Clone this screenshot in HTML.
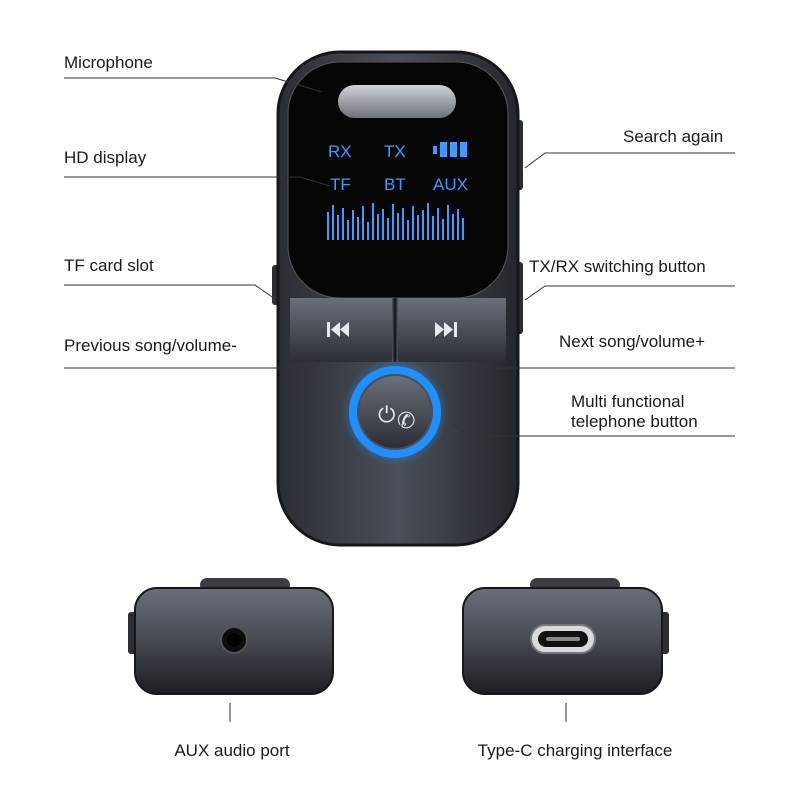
<!DOCTYPE html>
<html><head><meta charset="utf-8"><style>
html,body{margin:0;padding:0;background:#fff;}
svg{display:block;}
text{font-family:"Liberation Sans","DejaVu Sans",sans-serif;font-size:17px;fill:#1a1a1a;}
text.scr{fill:#3d9cff;}
</style></head><body>
<svg width="800" height="800" viewBox="0 0 800 800" xmlns="http://www.w3.org/2000/svg">
<defs>
<linearGradient id="body" x1="0" y1="0" x2="1" y2="0">
<stop offset="0" stop-color="#2a2d33"/><stop offset="0.5" stop-color="#4a4f57"/><stop offset="1" stop-color="#23262b"/>
</linearGradient>
<linearGradient id="btn" x1="0" y1="0" x2="0" y2="1">
<stop offset="0" stop-color="#6a6f78"/><stop offset="1" stop-color="#2b2e34"/>
</linearGradient>
<linearGradient id="low" x1="0" y1="0" x2="0" y2="1">
<stop offset="0" stop-color="#6a6f78"/><stop offset="0.5" stop-color="#454950"/><stop offset="1" stop-color="#1c1e22"/>
</linearGradient>
<radialGradient id="glow"><stop offset="0.7" stop-color="#1e90ff"/><stop offset="1" stop-color="#1e90ff" stop-opacity="0"/></radialGradient>
<linearGradient id="mic" x1="0" y1="0" x2="0" y2="1"><stop offset="0" stop-color="#cfd2d6"/><stop offset="1" stop-color="#6d7178"/></linearGradient>
</defs>

<rect x="272" y="265" width="10" height="40" rx="3" fill="#2b2e33"/>
<rect x="513" y="120" width="10" height="70" rx="3" fill="#2b2e33"/>
<rect x="513" y="262" width="10" height="72" rx="3" fill="#2b2e33"/>

<rect x="278" y="52" width="240" height="493" rx="62" fill="url(#body)" stroke="#15171a" stroke-width="3"/>
<rect x="288" y="62" width="220" height="236" rx="52" fill="#050506"/>
<rect x="288" y="62" width="220" height="236" rx="52" fill="none" stroke="#555" stroke-width="1"/>
<rect x="338" y="85" width="118" height="33" rx="16.5" fill="url(#mic)"/>
<text class="scr" x="328" y="157" style="fill:#3d9cff">RX</text>
<text class="scr" x="384" y="157" style="fill:#3d9cff">TX</text>
<text class="scr" x="330" y="190" style="fill:#3d9cff">TF</text>
<text class="scr" x="384" y="190" style="fill:#3d9cff">BT</text>
<text class="scr" x="433" y="190" style="fill:#3d9cff">AUX</text>
<rect x="433" y="146" width="4" height="8" fill="#3d9cff"/>
<rect x="440" y="142" width="7" height="15" fill="#3d9cff"/>
<rect x="450" y="142" width="7" height="15" fill="#3d9cff"/>
<rect x="460" y="142" width="7" height="15" fill="#3d9cff"/>
<g stroke="#3d9cff" stroke-width="2">
<line x1="328" y1="240" x2="328" y2="212"/><line x1="333" y1="240" x2="333" y2="205"/><line x1="338" y1="240" x2="338" y2="215"/>
<line x1="343" y1="240" x2="343" y2="208"/><line x1="348" y1="240" x2="348" y2="220"/><line x1="353" y1="240" x2="353" y2="210"/>
<line x1="358" y1="240" x2="358" y2="217"/><line x1="363" y1="240" x2="363" y2="206"/><line x1="368" y1="240" x2="368" y2="222"/>
<line x1="373" y1="240" x2="373" y2="203"/><line x1="378" y1="240" x2="378" y2="214"/><line x1="383" y1="240" x2="383" y2="209"/>
<line x1="388" y1="240" x2="388" y2="218"/><line x1="393" y1="240" x2="393" y2="204"/><line x1="398" y1="240" x2="398" y2="213"/>
<line x1="403" y1="240" x2="403" y2="208"/><line x1="408" y1="240" x2="408" y2="220"/><line x1="413" y1="240" x2="413" y2="206"/>
<line x1="418" y1="240" x2="418" y2="215"/><line x1="423" y1="240" x2="423" y2="210"/><line x1="428" y1="240" x2="428" y2="203"/>
<line x1="433" y1="240" x2="433" y2="216"/><line x1="438" y1="240" x2="438" y2="208"/><line x1="443" y1="240" x2="443" y2="219"/>
<line x1="448" y1="240" x2="448" y2="205"/><line x1="453" y1="240" x2="453" y2="214"/><line x1="458" y1="240" x2="458" y2="209"/>
<line x1="463" y1="240" x2="463" y2="218"/>
</g>
<path d="M290 298 H392 V362 H290 Z" fill="url(#btn)"/>
<path d="M398 298 H506 V362 H398 Z" fill="url(#btn)"/>
<line x1="395" y1="298" x2="395" y2="362" stroke="#1a1c20" stroke-width="3"/>
<g fill="#e6e8ea">
<rect x="327" y="322" width="3" height="15"/>
<polygon points="340,322 340,337 331,329.5"/><polygon points="349,322 349,337 340,329.5"/>
<polygon points="435,322 435,337 444,329.5"/><polygon points="444,322 444,337 453,329.5"/>
<rect x="454" y="322" width="3" height="15"/>
</g>
<circle cx="395" cy="412" r="54" fill="url(#glow)" opacity="0.5"/>
<circle cx="395" cy="412" r="46" fill="#1e90ff"/>
<circle cx="395" cy="412" r="38" fill="#4a4e56"/>
<circle cx="395" cy="412" r="36" fill="url(#btn)"/>
<text x="378" y="422" style="font-size:22px;fill:#e6e8ea">⏻</text>
<text x="397" y="428" style="font-size:22px;fill:#e6e8ea">✆</text>

<text x="64" y="68">Microphone</text>
<polyline points="64,78 275,78 322,92" fill="none" stroke="#333" stroke-width="1"/>
<text x="64" y="163">HD display</text>
<polyline points="64,177 300,177 330,186" fill="none" stroke="#333" stroke-width="1"/>
<text x="64" y="271">TF card slot</text>
<polyline points="64,285 255,285 275,299" fill="none" stroke="#333" stroke-width="1"/>
<text x="64" y="351">Previous song/volume-</text>
<polyline points="64,368 312,368 330,355" fill="none" stroke="#333" stroke-width="1"/>
<text x="623" y="142">Search again</text>
<polyline points="735,153 545,153 525,168" fill="none" stroke="#333" stroke-width="1"/>
<text x="529" y="272">TX/RX switching button</text>
<polyline points="735,286 545,286 525,300" fill="none" stroke="#333" stroke-width="1"/>
<text x="559" y="347">Next song/volume+</text>
<polyline points="735,368 485,368 466,355" fill="none" stroke="#333" stroke-width="1"/>
<text x="571" y="407">Multi functional</text>
<text x="571" y="427">telephone button</text>
<polyline points="735,436 470,436 452,424" fill="none" stroke="#333" stroke-width="1"/>

<rect x="200" y="578" width="90" height="14" rx="7" fill="#3a3d43"/>
<rect x="128" y="612" width="10" height="42" rx="3" fill="#2b2e33"/>
<rect x="135" y="588" width="198" height="106" rx="22" fill="url(#low)" stroke="#15171a" stroke-width="2"/>
<circle cx="234" cy="640" r="13" fill="#0c0d0f" stroke="#555" stroke-width="2"/>
<circle cx="234" cy="640" r="7" fill="#000"/>

<rect x="530" y="578" width="90" height="14" rx="7" fill="#3a3d43"/>
<rect x="659" y="612" width="10" height="42" rx="3" fill="#2b2e33"/>
<rect x="463" y="588" width="199" height="106" rx="22" fill="url(#low)" stroke="#15171a" stroke-width="2"/>
<rect x="531" y="625" width="64" height="28" rx="14" fill="#d8dadc" stroke="#777" stroke-width="2"/>
<rect x="538" y="631" width="50" height="16" rx="8" fill="#111"/>
<rect x="546" y="637" width="34" height="4" rx="2" fill="#888"/>

<line x1="230" y1="703" x2="230" y2="722" stroke="#333" stroke-width="1"/>
<line x1="566" y1="703" x2="566" y2="722" stroke="#333" stroke-width="1"/>
<text x="232" y="756" text-anchor="middle">AUX audio port</text>
<text x="575" y="756" text-anchor="middle">Type-C charging interface</text>
</svg>
</body></html>
